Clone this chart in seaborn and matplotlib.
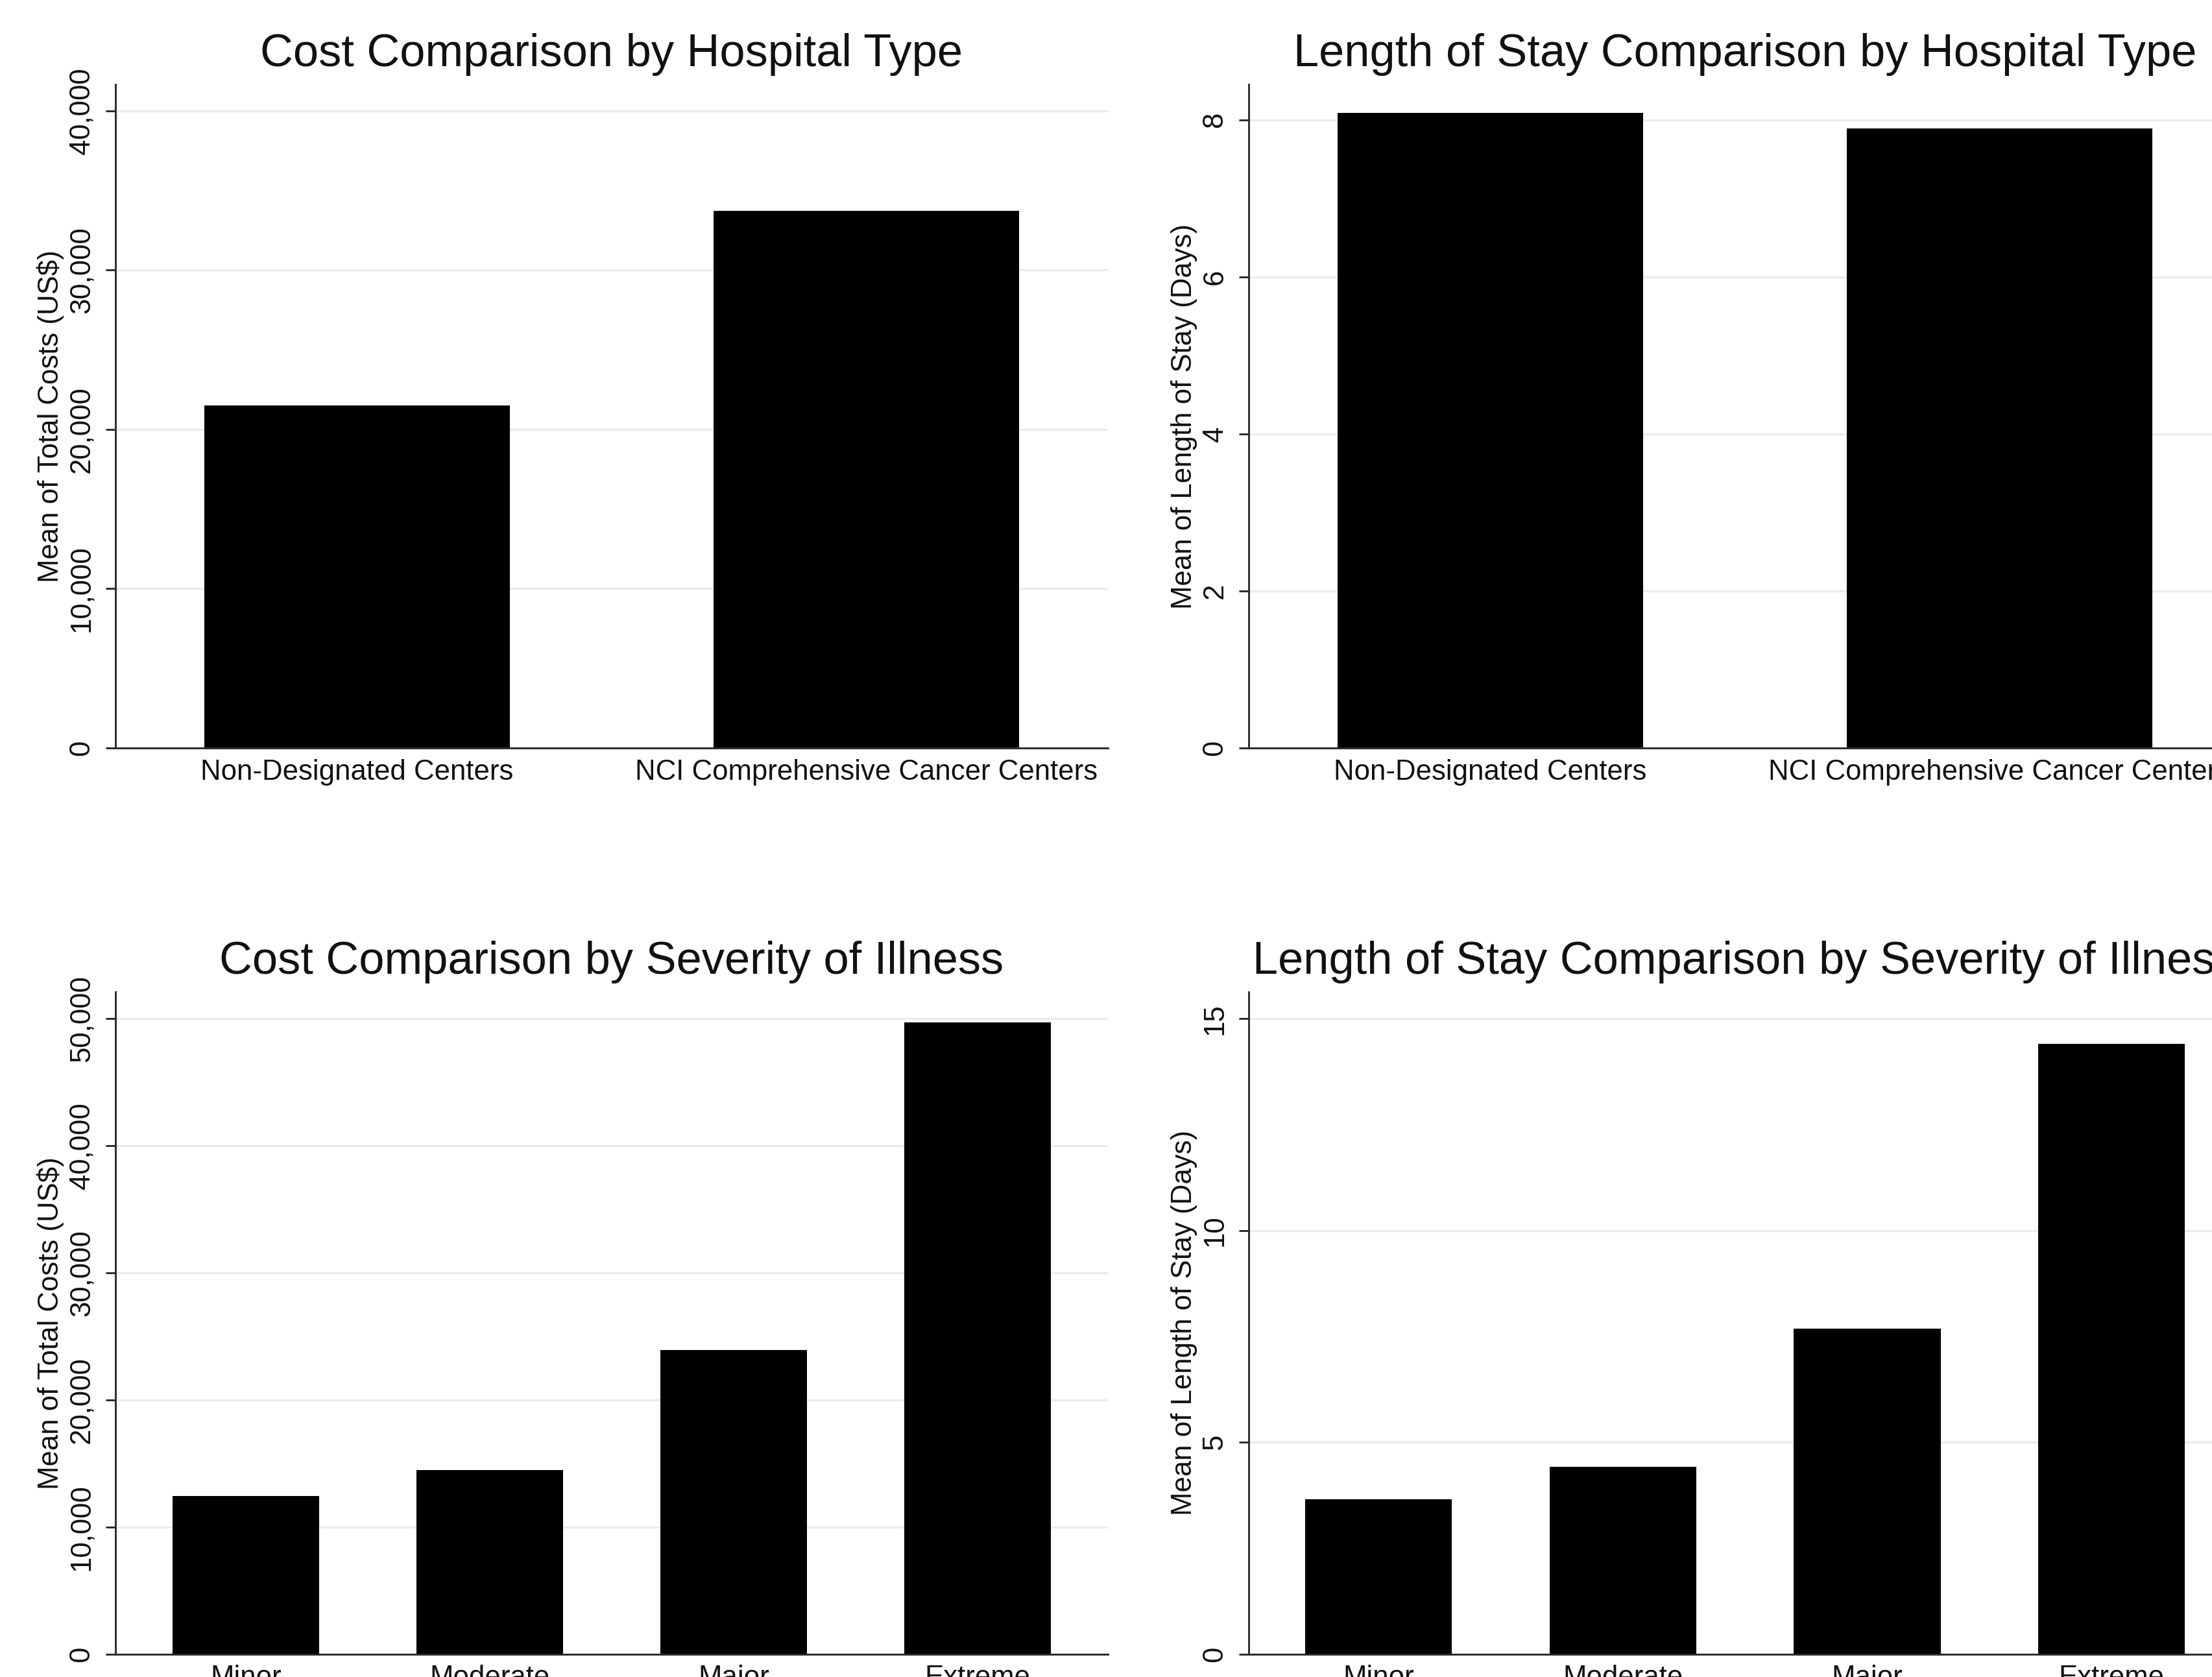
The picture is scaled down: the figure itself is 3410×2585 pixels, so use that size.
"""Cost and length-of-stay comparison panels (Stata-like mono bar charts)"""
import matplotlib
matplotlib.use("Agg")
import matplotlib.pyplot as plt
import seaborn as sns
import pandas as pd
from matplotlib.ticker import FixedLocator, FuncFormatter

# Data
hospital_types = ["Non-Designated Centers", "NCI Comprehensive Cancer Centers"]
cost_by_hospital = [21500, 33700]
los_by_hospital = [8.09, 7.89]

severity_levels = ["Minor", "Moderate", "Major", "Extreme"]
cost_by_severity = [12450, 14470, 23900, 49700]
los_by_severity = [3.65, 4.42, 7.68, 14.41]

cost_ticks_hospital = [0, 10000, 20000, 30000, 40000]
los_ticks_hospital = [0, 2, 4, 6, 8]
cost_ticks_severity = [0, 10000, 20000, 30000, 40000, 50000]
los_ticks_severity = [0, 5, 10, 15]

# Set style
sns.set_theme(style="white")
plt.rcParams["font.family"] = ["Liberation Sans", "DejaVu Sans"]
plt.rcParams["text.color"] = "#111111"

W, H, DPI = 3411, 2585, 300
fig = plt.figure(figsize=(W / DPI, H / DPI), dpi=DPI)
fig.patch.set_facecolor("white")

AXIS_COLOR = "#2b2b2b"
GRID_COLOR = "#ebebeb"
SMALL = 10.5
TITLE = 16.9


def bar_panel(rect, cats, values, ticks, ymax, xpad, title, ylabel, comma):
    ax = fig.add_axes(rect)
    df = pd.DataFrame({"cat": cats, "val": values})
    sns.barplot(data=df, x="cat", y="val", order=cats, color="black",
                saturation=1, width=0.6, errorbar=None, linewidth=0, ax=ax)

    n = len(cats)
    ax.set_xlim(-xpad, n - 1 + xpad)
    ax.set_ylim(0, ymax)

    for side in ["top", "right"]:
        ax.spines[side].set_visible(False)
    for side in ["left", "bottom"]:
        ax.spines[side].set_color(AXIS_COLOR)
        ax.spines[side].set_linewidth(0.7)

    ax.yaxis.set_major_locator(FixedLocator(ticks))
    if comma:
        ax.yaxis.set_major_formatter(FuncFormatter(lambda v, p: f"{v:,.0f}"))
    else:
        ax.yaxis.set_major_formatter(FuncFormatter(lambda v, p: f"{v:.0f}"))

    ax.tick_params(axis="y", which="major", direction="out", length=3.6,
                   width=0.7, color=AXIS_COLOR, pad=4, labelsize=SMALL,
                   labelcolor="#111111", labelrotation=90, left=True)
    for lab in ax.get_yticklabels():
        lab.set_verticalalignment("center")
    ax.tick_params(axis="x", length=0, pad=4, labelsize=SMALL,
                   labelcolor="#111111")

    ax.yaxis.grid(True, color=GRID_COLOR, linewidth=0.8)
    ax.xaxis.grid(False)
    ax.set_axisbelow(True)

    ax.set_xlabel("")
    ax.set_ylabel(ylabel, fontsize=SMALL, color="#111111")
    ax.yaxis.set_label_coords(-0.052, 0.5)
    ax.set_title(title, fontsize=TITLE, color="#111111", pad=6.7)
    return ax


AX_W = 0.4485
bar_panel([0.0522, 0.554, AX_W, 0.3956], hospital_types, cost_by_hospital,
          cost_ticks_hospital, 41650, 0.4745,
          "Cost Comparison by Hospital Type", "Mean of Total Costs (US$)", True)
bar_panel([0.5644, 0.554, AX_W, 0.3956], hospital_types, los_by_hospital,
          los_ticks_hospital, 8.45, 0.4745,
          "Length of Stay Comparison by Hospital Type",
          "Mean of Length of Stay (Days)", False)
bar_panel([0.0522, 0.0137, AX_W, 0.3948], severity_levels, cost_by_severity,
          cost_ticks_severity, 52100, 0.535,
          "Cost Comparison by Severity of Illness",
          "Mean of Total Costs (US$)", True)
bar_panel([0.5644, 0.0137, AX_W, 0.3948], severity_levels, los_by_severity,
          los_ticks_severity, 15.63, 0.53,
          "Length of Stay Comparison by Severity of Illness",
          "Mean of Length of Stay (Days)", False)

fig.savefig("out.png", dpi=DPI, facecolor="white")
plt.close(fig)
